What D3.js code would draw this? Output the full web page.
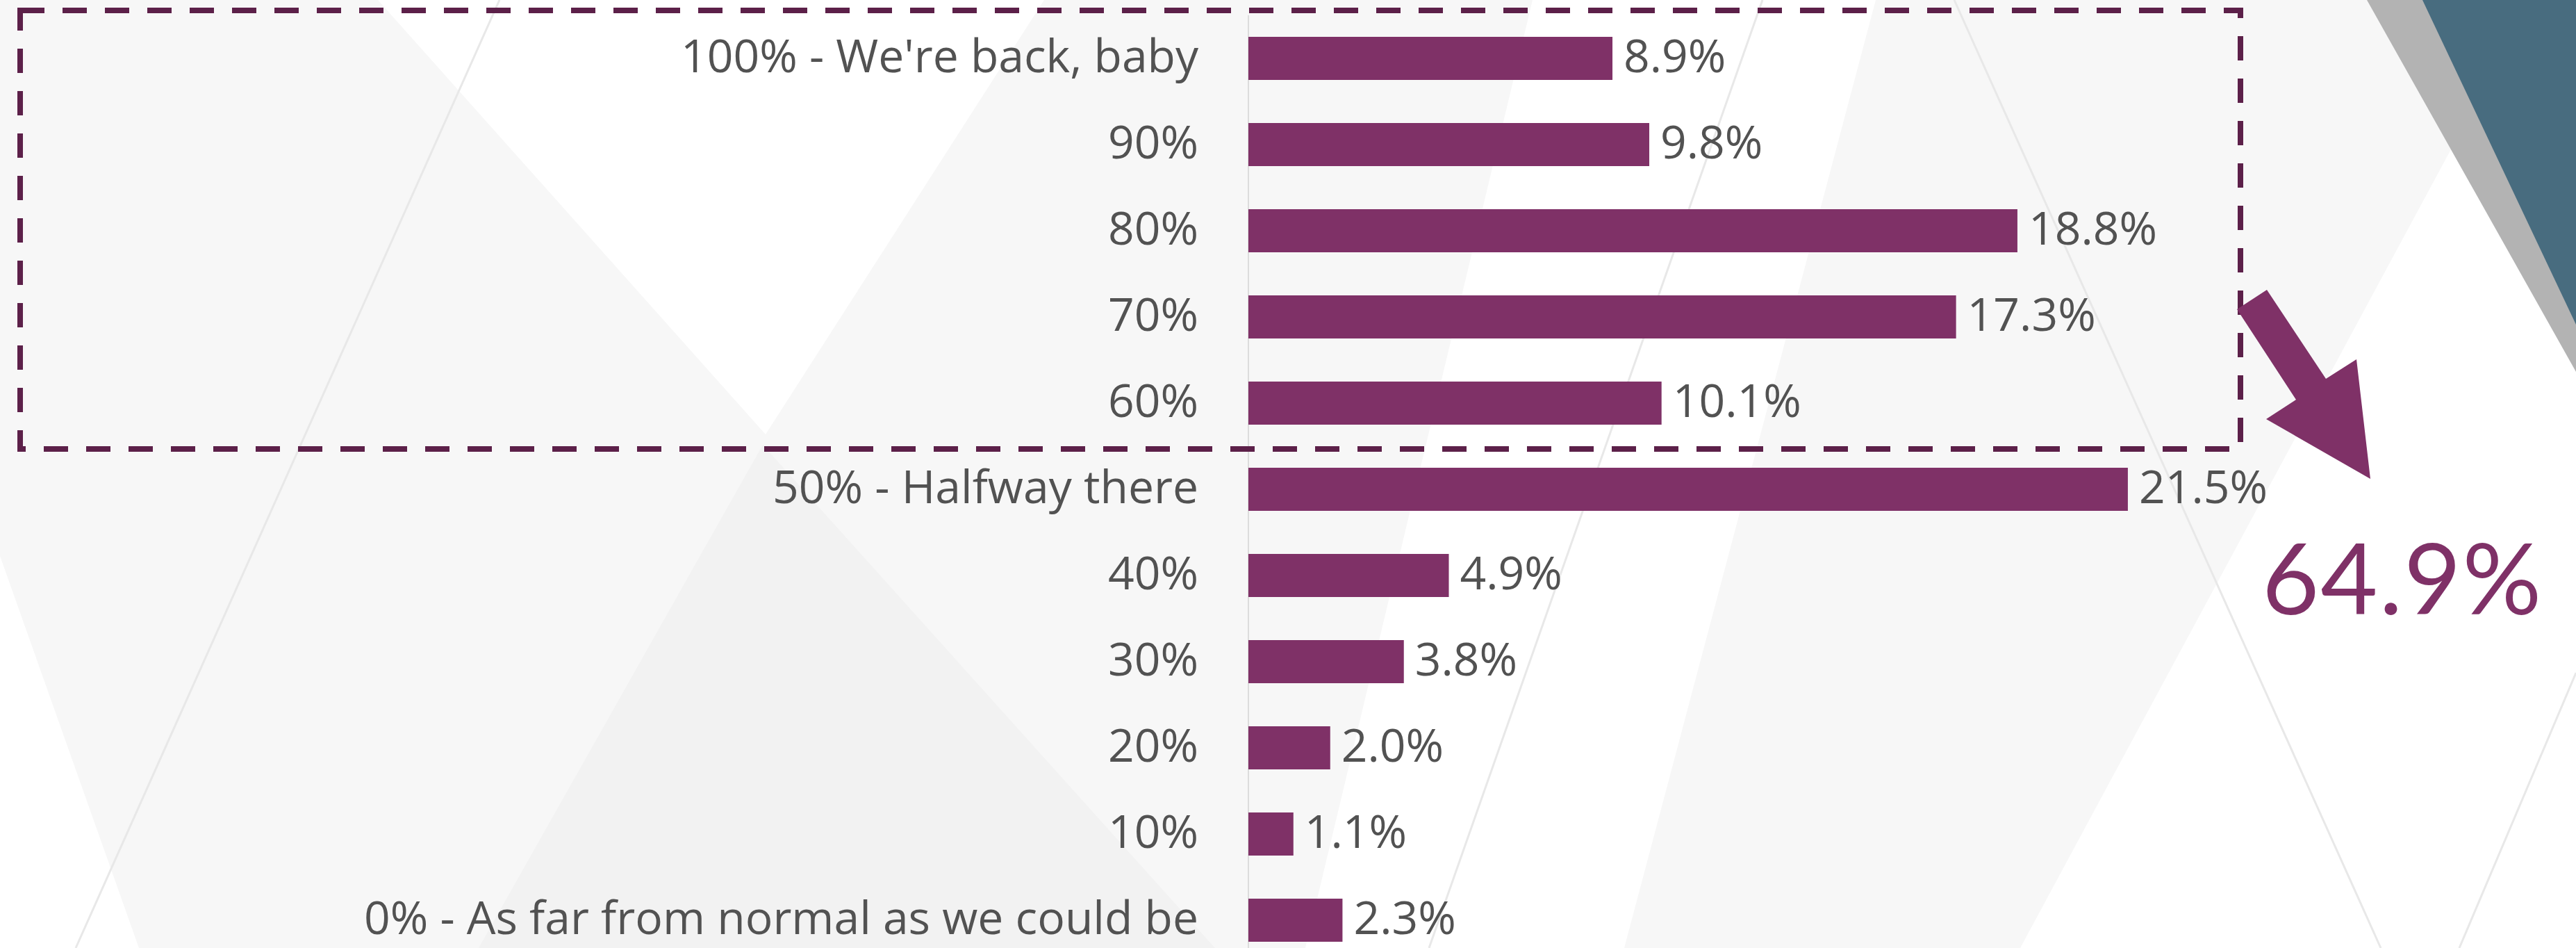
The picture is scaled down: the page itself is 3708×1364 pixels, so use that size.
<!DOCTYPE html>
<html>
<head>
<meta charset="utf-8">
<script src="https://cdn.jsdelivr.net/npm/d3@7"></script>
<style>
  html, body { margin: 0; padding: 0; background: #ffffff; overflow: hidden; }
  svg { display: block; }
</style>
</head>
<body>
<svg id="chart" width="3708" height="1364"></svg>
<script>
// Survey answers: how close to "normal" respondents feel
const categories = [
  "100% - We're back, baby",
  "90%",
  "80%",
  "70%",
  "60%",
  "50% - Halfway there",
  "40%",
  "30%",
  "20%",
  "10%",
  "0% - As far from normal as we could be"
];
const values = [8.9, 9.8, 18.8, 17.3, 10.1, 21.5, 4.9, 3.8, 2.0, 1.1, 2.3];
// the first five answers (60% and up) are grouped and totalled
const groupedCount = 5;

const W = 3708, H = 1364;
const BAR = "#7f3167";
const BOX = "#5c2049";
const TEXT = "#525252";

const svg = d3.select("#chart");

// ---- slide backdrop: soft grey facets and hairlines ----
const bg = svg.append("g").attr("class", "backdrop");
bg.append("rect").attr("width", W).attr("height", H).attr("fill", "#ffffff");

const facets = [
  { fill: "#f7f7f7", pts: [[0,0],[544,0],[1102,625],[1503,0],[2206,0],[1879,1364],[200,1364],[0,800]] },
  { fill: "#f2f2f2", pts: [[1098,640],[689,1364],[1749,1364]] },
  { fill: "#f7f7f7", pts: [[2700,0],[3644,0],[2908,1364],[2338,1364]] }
];
bg.selectAll("polygon.facet").data(facets).join("polygon")
  .attr("class", "facet")
  .attr("points", d => d.pts.map(p => p.join(",")).join(" "))
  .attr("fill", d => d.fill);

const hairlines = [
  [[719,0],[109,1364]],
  [[2537,0],[2057,1364]],
  [[2813,0],[3427,1364]],
  [[3708,968],[3540,1364]]
];
bg.selectAll("line.hair").data(hairlines).join("line")
  .attr("class", "hair")
  .attr("x1", d => d[0][0]).attr("y1", d => d[0][1])
  .attr("x2", d => d[1][0]).attr("y2", d => d[1][1])
  .attr("stroke", "#e8e8e8").attr("stroke-width", 3);

// corner accent, top right
bg.append("polygon")
  .attr("points", "3407,0 3708,0 3708,535")
  .attr("fill", "#b3b3b3");
bg.append("polygon")
  .attr("points", "3487,0 3708,0 3708,467")
  .attr("fill", "#486c7f");

// ---- bar chart ----
const x = d3.scaleLinear().domain([0, 25]).range([1797, 3269]);
const y = d3.scaleBand().domain(categories).range([-9, 1417]).padding(0.5);

const rows = categories.map((c, i) => ({ cat: c, val: values[i] }));

// vertical category axis
const yAxis = d3.axisLeft(y).tickSize(0).tickPadding(72);
const axisG = svg.append("g")
  .attr("transform", `translate(${x(0)},0)`)
  .call(yAxis);
axisG.select(".domain").remove();
axisG.selectAll("text")
  .attr("font-family", "'Open Sans', sans-serif")
  .attr("font-size", 66)
  .attr("fill", TEXT)
  .attr("dy", "0.3em");

svg.append("line")
  .attr("x1", x(0)).attr("x2", x(0))
  .attr("y1", y(categories[0]) - y.step() * 0.25)
  .attr("y2", H)
  .attr("stroke", "#dcdcdc").attr("stroke-width", 2);

svg.append("g").selectAll("rect").data(rows).join("rect")
  .attr("x", x(0))
  .attr("y", d => y(d.cat))
  .attr("width", d => x(d.val) - x(0))
  .attr("height", y.bandwidth())
  .attr("fill", BAR);

svg.append("g").selectAll("text").data(rows).join("text")
  .attr("x", d => x(d.val) + 16)
  .attr("y", d => y(d.cat) + y.bandwidth() / 2)
  .attr("dy", "0.3em")
  .attr("font-family", "'Open Sans', sans-serif")
  .attr("font-size", 66)
  .attr("fill", TEXT)
  .text(d => d3.format(".1f")(d.val) + "%");

// ---- dashed grouping box around the top answers ----
svg.append("rect")
  .attr("x", 29).attr("y", 15)
  .attr("width", 3196).attr("height", 631)
  .attr("fill", "none")
  .attr("stroke", BOX)
  .attr("stroke-width", 8)
  .attr("stroke-dasharray", "35 26");

// ---- callout arrow and group total ----
svg.append("polygon")
  .attr("points", "3220,445 3263,417 3348,545 3392,517 3412,689 3262,603 3305,575")
  .attr("fill", BAR);

const groupTotal = d3.sum(values.slice(0, groupedCount));
svg.append("text")
  .attr("x", 3256).attr("y", 884)
  .attr("font-family", "Lato, sans-serif")
  .attr("font-size", 142)
  .attr("letter-spacing", 2)
  .attr("fill", BAR)
  .text(d3.format(".1f")(groupTotal) + "%");
</script>
</body>
</html>
